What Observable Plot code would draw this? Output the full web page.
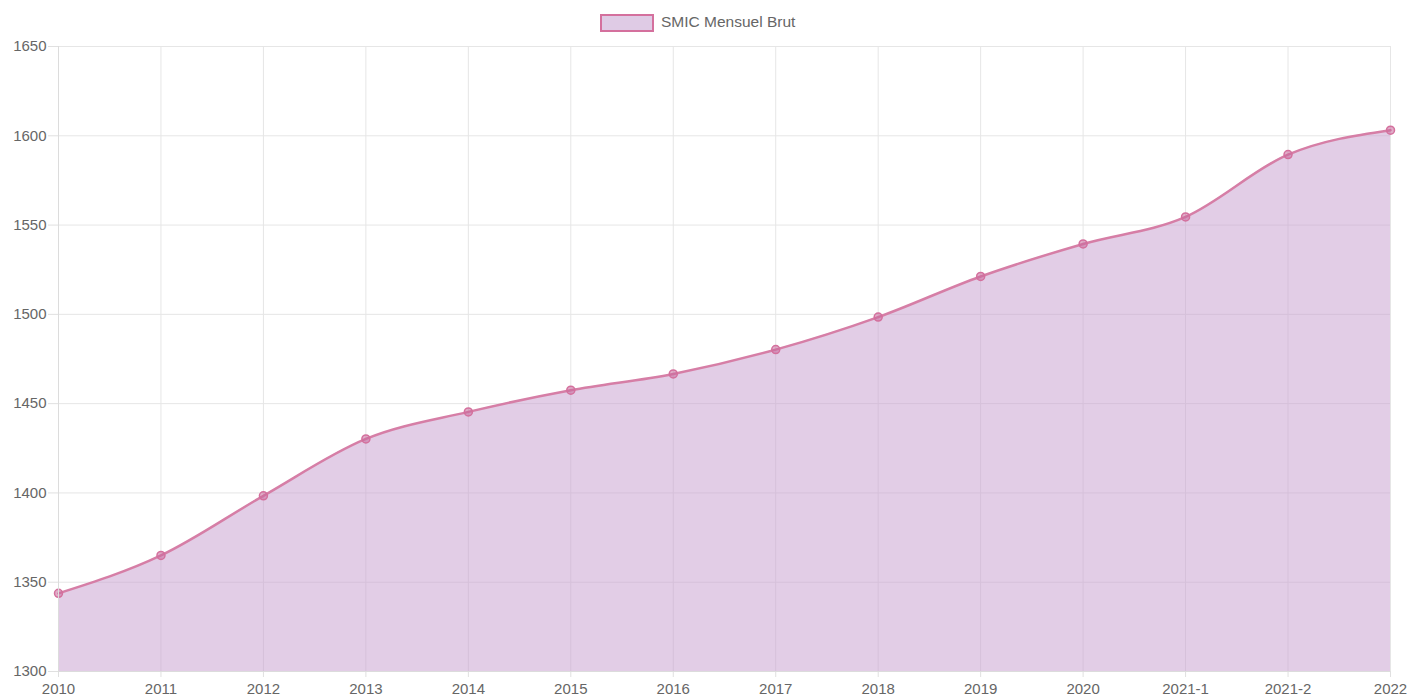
<!DOCTYPE html>
<html>
<head>
<meta charset="utf-8">
<script src="https://cdn.jsdelivr.net/npm/d3@7"></script>
<script src="https://cdn.jsdelivr.net/npm/@observablehq/plot@0.6"></script>
<style>
  html, body { margin: 0; padding: 0; background: #fff; }
  body { width: 1407px; height: 697px; overflow: hidden; font-family: "Liberation Sans", Arial, sans-serif; }
  #legend { height: 36px; position: relative; }
  #legend .box { position: absolute; left: 600px; top: 14px; width: 50px; height: 14px; background: #dfcbe5; border: 2px solid #d4709d; }
  #legend .lab { position: absolute; left: 661px; top: 13px; font-size: 15.5px; color: #666; }
</style>
</head>
<body>
<div id="legend"><div class="box"></div><div class="lab">SMIC Mensuel Brut</div></div>
<div id="chart"></div>
<script>
const categories = ["2010","2011","2012","2013","2014","2015","2016","2017","2018","2019","2020","2021-1","2021-2","2022"];
const smic = [1343.77, 1365.00, 1398.37, 1430.22, 1445.38, 1457.52, 1466.62, 1480.27, 1498.47, 1521.22, 1539.42, 1554.58, 1589.47, 1603.12];
const yTicks = [1300, 1350, 1400, 1450, 1500, 1550, 1600, 1650];
const seriesName = "SMIC Mensuel Brut";

const data = categories.map((c, i) => ({cat: c, value: smic[i], series: seriesName}));

const chart = Plot.plot({
  width: 1407,
  height: 661,
  marginLeft: 58,
  marginRight: 17,
  marginTop: 10,
  marginBottom: 26,
  style: {fontFamily: "'Liberation Sans', Arial, sans-serif", fontSize: "15px", background: "#fff"},
  x: {type: "point", domain: categories, padding: 0, round: false},
  y: {domain: [1300, 1650]},
  marks: [
    Plot.ruleY(yTicks, {stroke: "#e6e6e6"}),
    Plot.ruleX(categories, {stroke: "#e6e6e6"}),
    Plot.areaY(data, {x: "cat", y1: 1300, y2: "value", fill: "#c69bcd", fillOpacity: 0.5, curve: "monotone-x"}),
    Plot.lineY(data, {x: "cat", y: "value", stroke: "#d67ea6", strokeWidth: 2.5, curve: "monotone-x"}),
    Plot.dot(data, {x: "cat", y: "value", r: 4, fill: "#c9679a", fillOpacity: 0.55, stroke: "#d4709d", strokeWidth: 1.5}),
    Plot.axisY({ticks: yTicks, tickFormat: d => String(d), tickSize: 10, tickPadding: 2, stroke: "#e0e0e0", fill: "#666", label: null, fontSize: 15}),
    Plot.axisX({tickSize: 6, tickPadding: 6, stroke: "#e0e0e0", fill: "#666", label: null, fontSize: 15}),
    Plot.ruleY([1300], {stroke: "#dcdcdc"}),
    Plot.ruleX([categories[0]], {stroke: "#dcdcdc"})
  ]
});
document.getElementById("chart").appendChild(chart);
</script>
</body>
</html>
